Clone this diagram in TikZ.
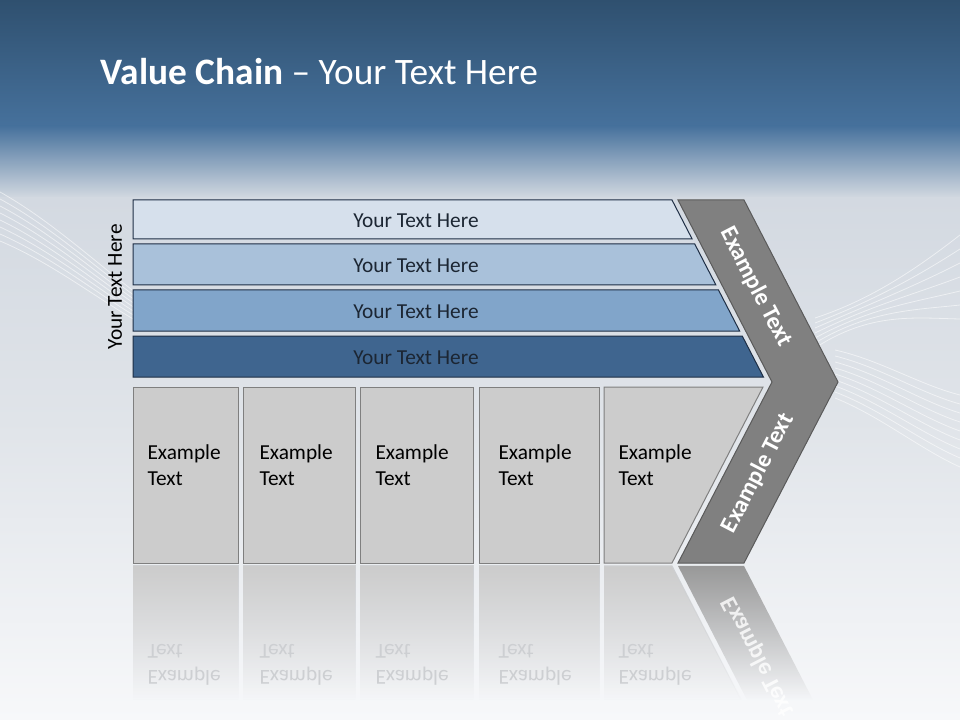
\documentclass[tikz,border=0pt]{standalone}
\usepackage{fontspec}
\setmainfont{Carlito}
\usetikzlibrary{fadings}
\definecolor{cbgA}{HTML}{2F506F}
\definecolor{cbgB}{HTML}{46719C}
\definecolor{cbgC}{HTML}{D3D9E1}
\definecolor{cbgD}{HTML}{E0E4E9}
\definecolor{cbgE}{HTML}{F7F8FA}
\definecolor{cbarA}{HTML}{D6E0EC}
\definecolor{cbarB}{HTML}{A9C1DA}
\definecolor{cbarC}{HTML}{81A5CA}
\definecolor{cbarD}{HTML}{3F658F}
\definecolor{cnavy}{HTML}{1E2E45}
\definecolor{ctext}{HTML}{1C2633}
\definecolor{ccard}{HTML}{CCCCCC}
\definecolor{cgrey}{HTML}{7F7F7F}
\definecolor{cchev}{HTML}{808080}
\definecolor{cchevdark}{HTML}{5A5A5A}
\definecolor{cref}{HTML}{CDCFD2}
\tikzset{
  every picture/.style={line width=0.75pt},
  bar/.style={draw=cnavy, fill=#1},
  bartext/.style={font=\fontsize{16}{19}\selectfont, text=ctext},
  card/.style={draw=cgrey, fill=ccard},
  cardtext/.style={font=\fontsize{16}{19.5}\selectfont, align=left, anchor=north west, inner sep=0pt},
  chev/.style={draw=cchevdark, fill=cchev},
  chevtext/.style={font=\fontsize{18}{21}\selectfont\bfseries, text=white},
  reflect/.style={fill=#1, draw=cref, path fading=south},
  reftext/.style={text=cref},
  swoosh/.style={draw=white, opacity=0.55, line width=0.6pt},
  title/.style={font=\fontsize{28}{34}\selectfont, text=white, anchor=base west},
}
\begin{document}
\begin{tikzpicture}[x=0.75pt, y=-0.75pt]
  \useasboundingbox (0,0) rectangle (960,720);
  % backdrop
  \shade[top color=cbgA, bottom color=cbgB] (0,0) rectangle (960,126);
  \shade[top color=cbgB, bottom color=cbgC] (0,126) rectangle (960,198);
  \shade[top color=cbgC, bottom color=cbgD] (0,198) rectangle (960,420);
  \shade[top color=cbgD, bottom color=cbgE] (0,420) rectangle (960,720);
  \foreach \k in {0,...,7}
    \draw[swoosh] (0,{192+7*\k}) .. controls (50,{220+6*\k}) and (95,{262+5*\k}) .. (135,{292+4*\k});
  \foreach \k in {0,...,6}
    \draw[swoosh] (815,{318+5*\k}) .. controls (870,{300+2*\k}) and (915,{270+8*\k}) .. (960,{235+14*\k});
  \foreach \k in {0,...,8}
    \draw[swoosh] (835,{350+6*\k}) .. controls (880,{360+7*\k}) and (920,{385+8*\k}) .. (960,{395+9*\k});
  \node[title] (ttl) at (96,85) {\textbf{Value Chain} – Your Text Here};
  % chevron
  \path[chev] (678,200) -- (744,200) -- (838,382) -- (744,563) -- (678,563) -- (772,382) -- cycle;
  \node[chevtext, rotate=-62.7] (chevup) at (756,287) {Example Text};
  \node[chevtext, rotate=62.7] (chevlow) at (758,473) {Example Text};
  % support bars
  \foreach \yt/\yb/\col [count=\i] in {200/239/cbarA, 244/285/cbarB, 290/331/cbarC, 336/377/cbarD} {
    \path[bar=\col] (133,\yt) -- ({672+0.5165*(\yt-200)},\yt) -- ({672+0.5165*(\yb-200)},\yb) -- (133,\yb) -- cycle;
    \node[bartext] (bar\i) at (416,{(\yt+\yb)/2+1}) {Your Text Here};
  }
  \node[bartext, text=black, rotate=90] (side) at (115,287) {Your Text Here};
  % primary cards and their reflection
  \foreach \xl/\xr/\xb/\xt [count=\i] in {133/238/238/147, 243/355/355/259, 360/473/473/375, 479/599/599/498, 604/763/672/618} {
    \path[card] (\xl,387) -- (\xr,387) -- (\xb,563) -- (\xl,563) -- cycle;
    \node[cardtext] (card\i) at (\xt,444) {Example\\Text};
    \path[reflect=ccard] (\xl,566) -- (\xb,566) -- ({\xb+0.761*(\xr-\xb)},700) -- (\xl,700);
    \node[cardtext, reftext, yscale=-1] (ref\i) at (\xt,686) {Example\\Text};
  }
  \path[reflect=cchev!80, draw=none] (678,566) -- (744,566) -- (813,700) -- (747,700) -- cycle;
  \node[chevtext, rotate=-62.7, yscale=-1, opacity=0.8] (refchev) at (758,657) {Example Text};
\end{tikzpicture}
\end{document}
